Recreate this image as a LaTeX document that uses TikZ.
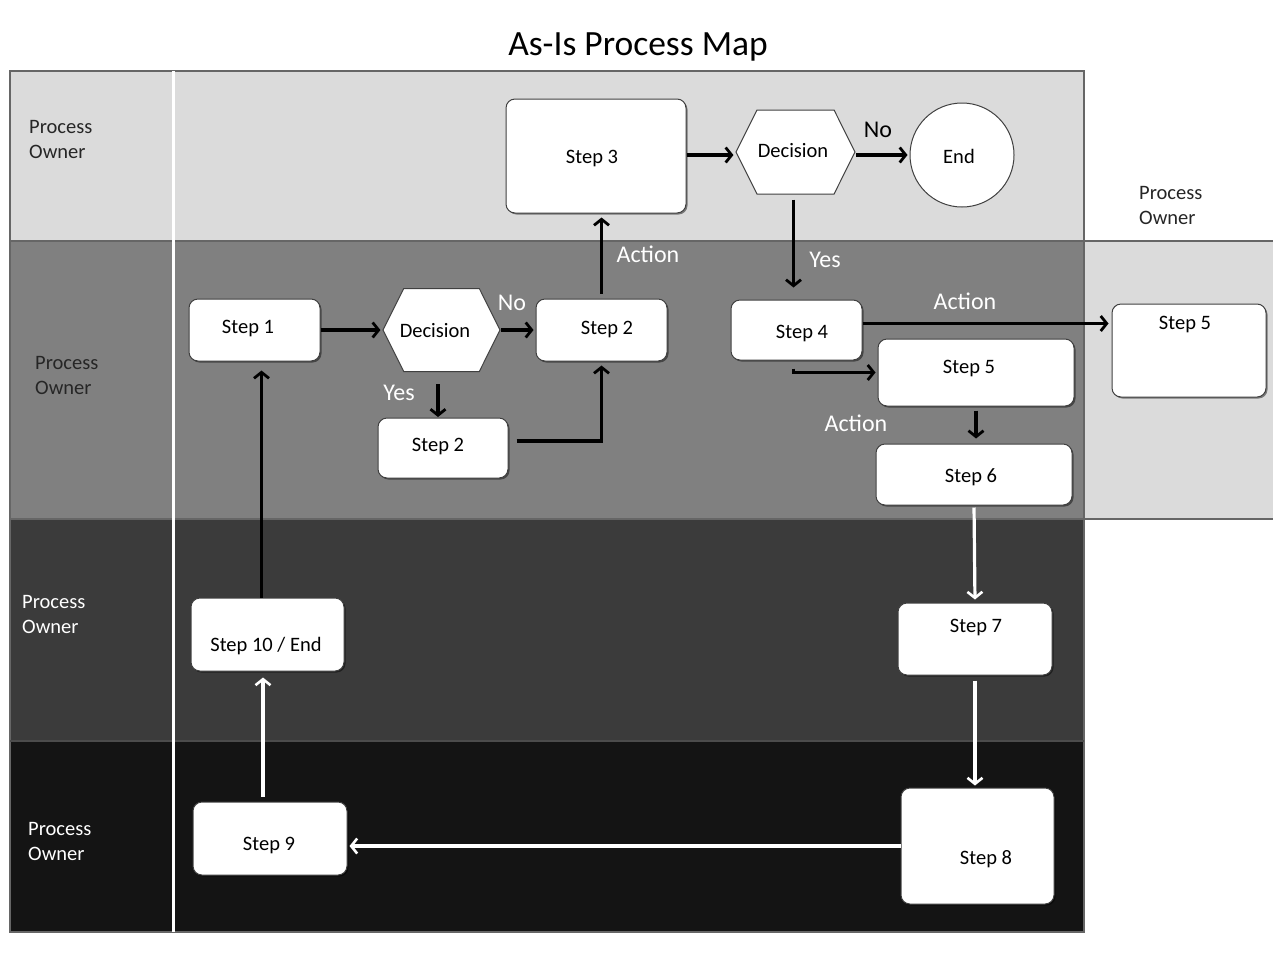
\documentclass[tikz,border=0pt]{standalone}
\usepackage{fontspec}
\setmainfont{Carlito}
\usetikzlibrary{arrows.meta,shapes.geometric,shapes.symbols,shadows}
\begin{document}
\begin{tikzpicture}[x=1pt,y=-1pt,
  every node/.style={font=\fontsize{20.5}{25}\selectfont},
  box/.style={draw=black!75, line width=1pt, fill=white, rounded corners=9pt,
     inner sep=0pt, drop shadow={shadow xshift=1.5pt, shadow yshift=-1.5pt, opacity=0.45, fill=black}},
  hexa/.style={draw=black!75, line width=1pt, fill=white, shape=signal, signal to=east and west,
     signal pointer angle=127, inner sep=0pt},
  txt/.style={inner sep=0pt},
  lbl/.style={inner sep=0pt, font=\fontsize{24}{28}\selectfont},
  lanelbl/.style={inner sep=0pt, align=left, anchor=north west, font=\fontsize{20.5}{25}\selectfont},
  blk/.style={draw=black, line width=3.6pt, -{Straight Barb[length=6pt,width=15pt,line width=2.8pt]}},
  wht/.style={draw=white, line width=3.2pt, -{Straight Barb[length=6pt,width=15pt,line width=2.6pt]}}
]
\useasboundingbox (0,0) rectangle (1273,959);
\fill[white] (0,0) rectangle (1273,959);
% title
\node[txt, font=\fontsize{35.5}{38}\selectfont] (title) at (638,47) {As-Is Process Map};
% lanes
\fill[black!14] (10,71) rectangle (1084,241);
\fill[black!50] (10,241) rectangle (1084,519);
\fill[black!77] (10,519) rectangle (1084,741);
\fill[black!92] (10,741) rectangle (1084,932);
\fill[black!14] (1084,241) rectangle (1273,519);
\draw[black!60, line width=1.2pt] (10,71) rectangle (1084,932);
\draw[black!60, line width=1.2pt] (10,241) -- (1273,241);
\draw[black!60, line width=1.2pt] (10,519) -- (1273,519);
\draw[black!70, line width=1.2pt] (10,741) -- (1084,741);
\draw[black!60, line width=1.2pt] (1084,241) -- (1084,519);
\draw[white, line width=3pt] (173,71) -- (173,932);
% lane labels
\node[lanelbl, text=black!85] (l1) at (29,120) {Process\\Owner};
\node[lanelbl, text=black!85] (l2) at (35,356) {Process\\Owner};
\node[lanelbl, text=white] (l3) at (22,595) {Process\\Owner};
\node[lanelbl, text=white] (l4) at (28,822) {Process\\Owner};
\node[lanelbl, text=black!85] (l5) at (1139,186) {Process\\Owner};
% nodes
\node[box, minimum width=131, minimum height=62] (s1) at (254.5,330) {};
\node[txt] (s1t) at (248,328) {Step 1};
\node[hexa, minimum width=117, minimum height=83] (d2) at (441.5,330) {};
\node[txt] (d2t) at (435,331) {Decision};
\node[box, minimum width=131, minimum height=62] (s2t) at (601.5,330) {};
\node[txt] (s2tt) at (607,329) {Step 2};
\node[box, minimum width=130, minimum height=60] (s2l) at (443,448) {};
\node[txt] (s2lt) at (438,446) {Step 2};
\node[box, minimum width=180, minimum height=114] (s3) at (596,156) {};
\node[txt] (s3t) at (592,158) {Step 3};
\node[hexa, minimum width=119, minimum height=84] (d1) at (795.5,152) {};
\node[txt] (d1t) at (793,151) {Decision};
\node[draw=black!75, line width=1pt, fill=white, circle, minimum size=104, inner sep=0pt] (end) at (962,155) {};
\node[txt] (endt) at (959,156) {End};
\node[box, minimum width=131, minimum height=60] (s4) at (796.5,330) {};
\node[txt] (s4t) at (802,333) {Step 4};
\node[box, minimum width=154, minimum height=93] (s5r) at (1189,350.5) {};
\node[txt] (s5rt) at (1185,324) {Step 5};
\node[box, minimum width=196, minimum height=67] (s5m) at (976,372.5) {};
\node[txt] (s5mt) at (969,368) {Step 5};
\node[box, minimum width=196, minimum height=61] (s6) at (974,474.5) {};
\node[txt] (s6t) at (971,477) {Step 6};
\node[box, minimum width=154, minimum height=72] (s7) at (975,639) {};
\node[txt] (s7t) at (976,627) {Step 7};
\node[box, minimum width=153, minimum height=116] (s8) at (977.5,846) {};
\node[txt] (s8t) at (986,859) {Step 8};
\node[box, minimum width=154, minimum height=73] (s9) at (270,838.5) {};
\node[txt] (s9t) at (269,845) {Step 9};
\node[box, minimum width=153, minimum height=73] (s10) at (267.5,634.5) {};
\node[txt] (s10t) at (266,646) {Step 10 / End};
% labels
\node[lbl, text=black] (no1) at (878,130) {No};
\node[lbl, text=white] (yes1) at (825,260) {Yes};
\node[lbl, text=white] (no2) at (512,303) {No};
\node[lbl, text=white] (yes2) at (399,393) {Yes};
\node[lbl, text=white] (act1) at (648,254) {Action};
\node[lbl, text=white] (act2) at (965,301) {Action};
\node[lbl, text=white] (act3) at (856,423) {Action};
% connectors
\draw[blk, shorten >=2pt] (s1.east) -- (d2.west);
\draw[blk, shorten >=2pt] (d2.east) -- (s2t.west);
\draw[blk, shorten <=12pt, shorten >=3pt] (d2.south -| s2l.north) ++(-5,0) -- ++(0,48);
\draw[blk, shorten >=4pt] (s2l.east) ++(8,-7) -| (s2t.south);
\draw[blk, shorten <=5pt, shorten >=4pt] (s2t.north) -- (s2t.north |- s3.south);
\draw[blk, shorten >=2pt] (s3.east |- end.west) -- (d1.west |- end.west);
\draw[blk, shorten >=2pt] (d1.east |- end.west) -- (end.west);
\draw[blk, shorten <=5pt, shorten >=7pt] (d1.south -| s4.north) ++(-3,0) -- ++(0,100);
\draw[blk, shorten >=2pt] (s4.east |- s5r.north) ++(0,20) -- ++(248,0);
\draw[blk, shorten >=2pt] (s4.south) ++(-3,8) |- (s5m.west);
\draw[blk, shorten <=4pt, shorten >=5pt] (s5m.south) -- (s6.north -| s5m.south);
\draw[wht, shorten <=2pt, shorten >=3pt] (s6.south) -- (s7.north);
\draw[wht, shorten <=5pt, shorten >=2pt] (s7.south) -- (s8.north -| s7.south);
\draw[wht, shorten >=2pt] (s8.west) -- (s9.east |- s8.west);
\draw[wht, shorten <=5pt, shorten >=7pt] (s9.north) ++(-7,0) -- ++(0,-131);
\draw[blk, shorten >=6pt] (s10.north) ++(-6,0) -- ++(0,-233);
\end{tikzpicture}
\end{document}
